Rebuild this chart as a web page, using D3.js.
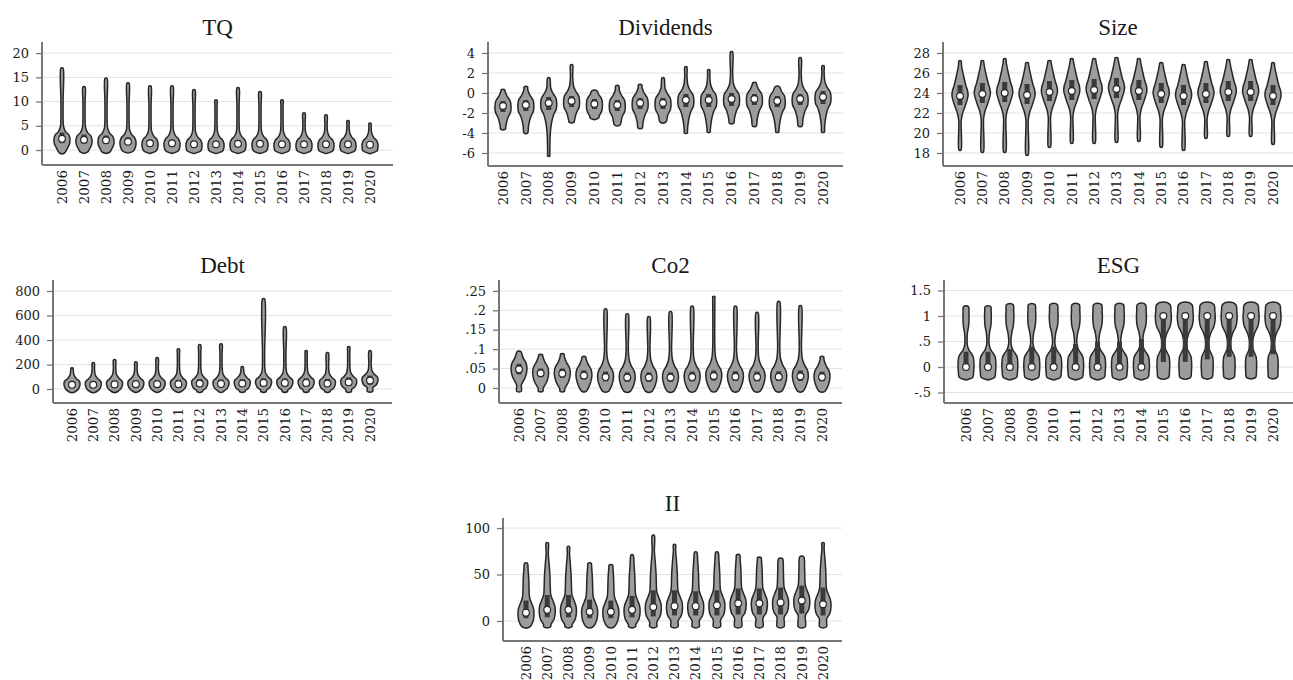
<!DOCTYPE html>
<html>
<head>
<meta charset="utf-8">
<script src="https://cdn.jsdelivr.net/npm/d3@7"></script>
<style>
  body { margin: 0; background: #fff; }
  svg { display: block; }
</style>
</head>
<body>
<div id="chart"></div>
<script>
//---------------------------------------------------------------------
// Violin plots by year, seven variables
//---------------------------------------------------------------------

var years = ["2006","2007","2008","2009","2010","2011","2012","2013","2014","2015","2016","2017","2018","2019","2020"];

// TQ
var tqMed = [2.3,2.1,2.0,1.7,1.4,1.4,1.2,1.2,1.3,1.3,1.2,1.2,1.2,1.2,1.1];
var tqQ1  = [1.4,1.3,1.3,1.1,0.9,0.9,0.8,0.8,0.8,0.9,0.8,0.8,0.8,0.8,0.8];
var tqQ3  = [3.6,3.2,3.0,2.6,2.1,2.1,1.8,1.8,1.9,1.9,1.8,1.8,1.7,1.7,1.6];
var tqLo  = [-0.6,-0.4,-0.4,-0.2,-0.2,-0.2,-0.2,-0.2,-0.2,-0.2,-0.2,-0.2,-0.2,-0.2,-0.2];
var tqHi  = [16.9,13.0,14.8,13.8,13.2,13.2,12.4,10.3,12.8,12.0,10.3,7.6,7.2,6.0,5.5];
var tqShape = [[-3,0.3],[-2,0.65],[-1,0.95],[0,1],[0.8,0.85],[1.5,0.45],[2.5,0.2],[4,0.14],[8,0.12],[20,0.1]];
var tqTicks = [0,5,10,15,20];
var tqTickLabels = ["0","5","10","15","20"];

// Dividends
var divMed = [-1.3,-1.2,-1.0,-0.8,-1.1,-1.2,-1.0,-1.0,-0.7,-0.7,-0.6,-0.6,-0.8,-0.6,-0.4];
var divQ1  = [-1.9,-1.8,-1.7,-1.4,-1.6,-1.8,-1.6,-1.6,-1.4,-1.4,-1.3,-1.2,-1.4,-1.2,-1.1];
var divQ3  = [-0.8,-0.7,-0.4,-0.3,-0.6,-0.7,-0.5,-0.5,-0.1,-0.1,0.0,-0.1,-0.3,-0.1,0.2];
var divLo  = [-3.6,-4.0,-6.3,-2.9,-2.5,-3.2,-3.5,-2.9,-4.0,-3.9,-3.0,-3.3,-3.9,-3.3,-3.9];
var divHi  = [0.3,0.6,1.5,2.8,0.2,0.7,0.8,1.5,2.6,2.3,4.1,1.0,0.6,3.5,2.7];
var divShape = [[-5,0.12],[-3,0.2],[-2,0.35],[-1.2,0.6],[-0.6,0.95],[0,1],[0.5,0.9],[1,0.5],[1.5,0.25],[2.5,0.14],[5,0.1]];
var divTicks = [-6,-4,-2,0,2,4];
var divTickLabels = ["-6","-4","-2","0","2","4"];

// Size
var sizeMed = [23.7,23.9,24.0,23.8,24.1,24.2,24.3,24.4,24.2,23.9,23.7,23.9,24.1,24.1,23.7];
var sizeQ1  = [22.8,23.0,23.1,22.9,23.2,23.3,23.4,23.5,23.3,23.0,22.8,23.0,23.2,23.2,22.8];
var sizeQ3  = [24.8,25.0,25.1,24.9,25.2,25.3,25.4,25.5,25.3,25.0,24.8,25.0,25.2,25.2,24.8];
var sizeLo  = [18.3,18.1,18.1,17.8,18.6,19.0,19.0,19.1,19.2,18.6,18.3,19.5,19.7,19.7,18.9];
var sizeHi  = [27.2,27.2,27.4,27.0,27.2,27.4,27.4,27.5,27.4,27.0,26.8,27.1,27.3,27.3,27.0];
var sizeShape = [[-6,0.1],[-2.5,0.15],[-1.8,0.3],[-1,0.65],[0,1],[0.5,0.95],[1,0.75],[2,0.45],[3,0.2],[3.8,0.08]];
var sizeTicks = [18,20,22,24,26,28];
var sizeTickLabels = ["18","20","22","24","26","28"];

// Debt
var debtMed = [35,35,38,40,40,40,45,42,45,50,50,50,45,55,70];
var debtQ1  = [15,15,17,18,18,18,20,19,20,22,22,22,20,25,35];
var debtQ3  = [65,65,70,72,72,75,80,78,80,88,88,88,82,95,110];
var debtLo  = [-20,-20,-20,-20,-20,-20,-20,-20,-20,-20,-20,-20,-20,-20,-18];
var debtHi  = [170,212,237,220,253,326,359,367,180,735,506,310,294,343,310];
var debtShape = [[-60,0.35],[-35,0.8],[0,1],[25,0.95],[50,0.55],[80,0.25],[130,0.15],[250,0.12],[800,0.1]];
var debtTicks = [0,200,400,600,800];
var debtTickLabels = ["0","200","400","600","800"];

// Co2
var co2Med = [0.048,0.038,0.037,0.032,0.028,0.027,0.027,0.027,0.028,0.031,0.029,0.028,0.029,0.030,0.028];
var co2Q1  = [0.035,0.028,0.026,0.022,0.017,0.016,0.016,0.016,0.017,0.019,0.018,0.017,0.018,0.018,0.017];
var co2Q3  = [0.062,0.050,0.050,0.045,0.042,0.040,0.040,0.040,0.042,0.045,0.043,0.042,0.043,0.045,0.042];
var co2Lo  = [-0.008,-0.008,-0.008,-0.008,-0.008,-0.008,-0.008,-0.008,-0.008,-0.008,-0.008,-0.008,-0.008,-0.008,-0.008];
var co2Hi  = [0.093,0.085,0.087,0.080,0.203,0.190,0.183,0.196,0.210,0.235,0.210,0.194,0.222,0.211,0.080];
var co2Shape = [[-0.04,0.3],[-0.02,0.8],[0,1],[0.015,0.9],[0.03,0.5],[0.045,0.25],[0.07,0.14],[0.2,0.1]];
var co2Ticks = [0,0.05,0.1,0.15,0.2,0.25];
var co2TickLabels = ["0",".05",".1",".15",".2",".25"];

// ESG (two humps, at 0 and at 1)
var esgMed = [0,0,0,0,0,0,0,0,0,1,1,1,1,1,1];
var esgQ1  = [0,0,0,0,0,0,0,0,0,0.1,0.1,0.15,0.2,0.2,0.25];
var esgQ3  = [0.3,0.3,0.35,0.4,0.4,0.45,0.5,0.5,0.55,1,1,1,1,1,1];
var esgLo  = [-0.2,-0.2,-0.2,-0.2,-0.2,-0.2,-0.2,-0.2,-0.2,-0.2,-0.2,-0.2,-0.2,-0.2,-0.2];
var esgHi  = [1.18,1.18,1.22,1.22,1.22,1.22,1.22,1.22,1.22,1.22,1.22,1.22,1.22,1.22,1.22];
var esgLowW  = [1,1,1,1,1,1,1,1,1,0.8,0.8,0.75,0.75,0.7,0.65];
var esgHighW = [0.38,0.42,0.5,0.5,0.55,0.55,0.6,0.6,0.62,1,1,1,1,1,1];
var esgLowShape  = [[-0.2,0.85],[-0.1,0.95],[0.05,1],[0.2,0.9],[0.28,0.6],[0.35,0.3],[0.45,0.12],[0.55,0.05],[0.7,0]];
var esgHighShape = [[0.3,0],[0.5,0.1],[0.65,0.4],[0.8,0.85],[0.95,1],[1.1,0.95],[1.22,0.85]];
var esgTicks = [-0.5,0,0.5,1,1.5];
var esgTickLabels = ["-.5","0",".5","1","1.5"];

// II
var iiMed = [9,12,12,10,10,12,15,16,16,17,19,19,20,22,18];
var iiQ1  = [3,4,4,3,3,4,5,6,6,6,7,7,7,8,6];
var iiQ3  = [22,28,28,23,22,27,33,33,32,33,35,35,36,38,36];
var iiLo  = [-6,-6,-6,-6,-6,-6,-6,-6,-6,-6,-6,-6,-6,-6,-6];
var iiHi  = [62,84,80,62,60,71,92,82,74,74,71,68,67,69,84];
var iiShape = [[-16,0.45],[-10,0.85],[-3,1],[4,0.95],[10,0.7],[16,0.45],[25,0.38],[35,0.35],[48,0.25],[60,0.12],[80,0.08]];
var iiTicks = [0,50,100];
var iiTickLabels = ["0","50","100"];

// width of a violin from its shape knots (offset from median -> relative width)
function offsetWidth(shape, med) {
  var s = d3.scaleLinear().domain(shape.map(function(d){return d[0];}))
    .range(shape.map(function(d){return d[1];})).clamp(true);
  return {
    w: function(v){ return s(v - med); },
    knots: shape.map(function(d){ return d[0] + med; })
  };
}
function esgWidth(i) {
  var lo = d3.scaleLinear().domain(esgLowShape.map(function(d){return d[0];}))
    .range(esgLowShape.map(function(d){return d[1];})).clamp(true);
  var hi = d3.scaleLinear().domain(esgHighShape.map(function(d){return d[0];}))
    .range(esgHighShape.map(function(d){return d[1];})).clamp(true);
  return {
    w: function(v){ return esgLowW[i]*lo(v) + esgHighW[i]*hi(v); },
    knots: esgLowShape.map(function(d){return d[0];}).concat(esgHighShape.map(function(d){return d[0];}))
  };
}

var panels = [
  {title:"TQ", med:tqMed, q1:tqQ1, q3:tqQ3, lo:tqLo, hi:tqHi, shape:tqShape, ticks:tqTicks, labels:tqTickLabels,
   x0:42, x1:393, y0:42, y1:165, vx0:62, vx1:370, dom:[-3.1,22.3]},
  {title:"Dividends", med:divMed, q1:divQ1, q3:divQ3, lo:divLo, hi:divHi, shape:divShape, ticks:divTicks, labels:divTickLabels,
   x0:488, x1:843, y0:42, y1:166, vx0:503, vx1:823, dom:[-7.3,5.1]},
  {title:"Size", med:sizeMed, q1:sizeQ1, q3:sizeQ3, lo:sizeLo, hi:sizeHi, shape:sizeShape, ticks:sizeTicks, labels:sizeTickLabels,
   x0:943, x1:1293, y0:42, y1:166, vx0:960, vx1:1273, dom:[16.7,29.1]},
  {title:"Debt", med:debtMed, q1:debtQ1, q3:debtQ3, lo:debtLo, hi:debtHi, shape:debtShape, ticks:debtTicks, labels:debtTickLabels,
   x0:53, x1:392, y0:280, y1:403, vx0:72, vx1:370, dom:[-114,890]},
  {title:"Co2", med:co2Med, q1:co2Q1, q3:co2Q3, lo:co2Lo, hi:co2Hi, shape:co2Shape, ticks:co2Ticks, labels:co2TickLabels,
   x0:499, x1:842, y0:280, y1:403, vx0:519, vx1:822, dom:[-0.0387,0.278]},
  {title:"ESG", med:esgMed, q1:esgQ1, q3:esgQ3, lo:esgLo, hi:esgHi, shape:null, ticks:esgTicks, labels:esgTickLabels,
   x0:944, x1:1293, y0:280, y1:403, vx0:966, vx1:1273, dom:[-0.706,1.706]},
  {title:"II", med:iiMed, q1:iiQ1, q3:iiQ3, lo:iiLo, hi:iiHi, shape:iiShape, ticks:iiTicks, labels:iiTickLabels,
   x0:503, x1:842, y0:518, y1:641, vx0:526, vx1:823, dom:[-21.5,110.8]}
];

var halfW = 8;
var ink = "#262626";

var svg = d3.select("#chart").append("svg")
  .attr("width", 1293).attr("height", 680)
  .style("background", "#fff");

var line = d3.line().curve(d3.curveCatmullRom.alpha(0.5));

panels.forEach(function(p) {
  var g = svg.append("g");
  var y = d3.scaleLinear().domain(p.dom).range([p.y1, p.y0]);
  var x = d3.scalePoint().domain(years).range([p.vx0, p.vx1]);

  // grid
  g.selectAll("line.grid").data(p.ticks).enter().append("line")
    .attr("x1", p.x0).attr("x2", p.x1)
    .attr("y1", function(d){return y(d);}).attr("y2", function(d){return y(d);})
    .attr("stroke", "#e2e2e2").attr("stroke-width", 1);

  // y axis
  var yAxis = d3.axisLeft(y).tickValues(p.ticks).tickSize(6).tickPadding(7)
    .tickFormat(function(d, i){ return p.labels[i]; });
  var ga = g.append("g").attr("transform", "translate(" + p.x0 + ",0)").call(yAxis);
  ga.select(".domain").remove();
  ga.selectAll(".tick line").attr("stroke", "#777").attr("stroke-width", 1.3);
  ga.selectAll(".tick text")
    .attr("fill", "#1a1a1a")
    .style("font-family", "'DejaVu Serif', serif")
    .style("font-size", "13px");
  g.append("line").attr("x1", p.x0).attr("x2", p.x0).attr("y1", p.y0).attr("y2", p.y1)
    .attr("stroke", "#777").attr("stroke-width", 2);
  g.append("line").attr("x1", p.x0).attr("x2", p.x1).attr("y1", p.y1).attr("y2", p.y1)
    .attr("stroke", "#777").attr("stroke-width", 2);

  // x labels
  g.selectAll("text.year").data(years).enter().append("text")
    .attr("transform", function(d){ return "translate(" + x(d) + "," + (p.y1 + 5) + ") rotate(-90)"; })
    .attr("text-anchor", "end")
    .attr("dy", "0.35em")
    .attr("fill", "#1a1a1a")
    .style("font-family", "'DejaVu Serif', serif")
    .style("font-size", "13.5px")
    .text(function(d){ return d; });

  // title
  g.append("text")
    .attr("x", (p.x0 + p.x1) / 2).attr("y", p.y0 - 7)
    .attr("text-anchor", "middle")
    .attr("fill", "#1a1a1a")
    .style("font-family", "'Liberation Serif', 'Times New Roman', serif")
    .style("font-size", "23px")
    .text(p.title);

  // violins
  years.forEach(function(yr, i) {
    var cx = x(yr);
    var lo = p.lo[i], hi = p.hi[i];
    var prof = p.shape ? offsetWidth(p.shape, p.med[i]) : esgWidth(i);
    var vals = [lo, hi].concat(prof.knots.filter(function(v){ return v > lo && v < hi; }));
    vals.sort(d3.ascending);
    vals = vals.filter(function(v, k){ return k === 0 || v - vals[k-1] > 1e-9; });
    var wd = function(v){ return Math.max(1.1, halfW * prof.w(v)); };
    var capLo = Math.min(3, wd(lo) * 0.4), capHi = Math.min(3, wd(hi) * 0.4);
    var pts = [[cx, y(lo) + capLo]];
    vals.forEach(function(v){ pts.push([cx - wd(v), y(v)]); });
    pts.push([cx, y(hi) - capHi]);
    vals.slice().reverse().forEach(function(v){ pts.push([cx + wd(v), y(v)]); });
    pts.push([cx, y(lo) + capLo]);
    g.append("path").attr("d", line(pts) + "Z")
      .attr("fill", "#9c9c9c").attr("stroke", ink).attr("stroke-width", 1.5);

    g.append("rect")
      .attr("x", cx - 2.5).attr("width", 5)
      .attr("y", y(p.q3[i])).attr("height", Math.max(1, y(p.q1[i]) - y(p.q3[i])))
      .attr("fill", "#3a3a3a");
    g.append("circle")
      .attr("cx", cx).attr("cy", y(p.med[i])).attr("r", 3.4)
      .attr("fill", "#fff").attr("stroke", ink).attr("stroke-width", 1.2);
  });
});
</script>
</body>
</html>
